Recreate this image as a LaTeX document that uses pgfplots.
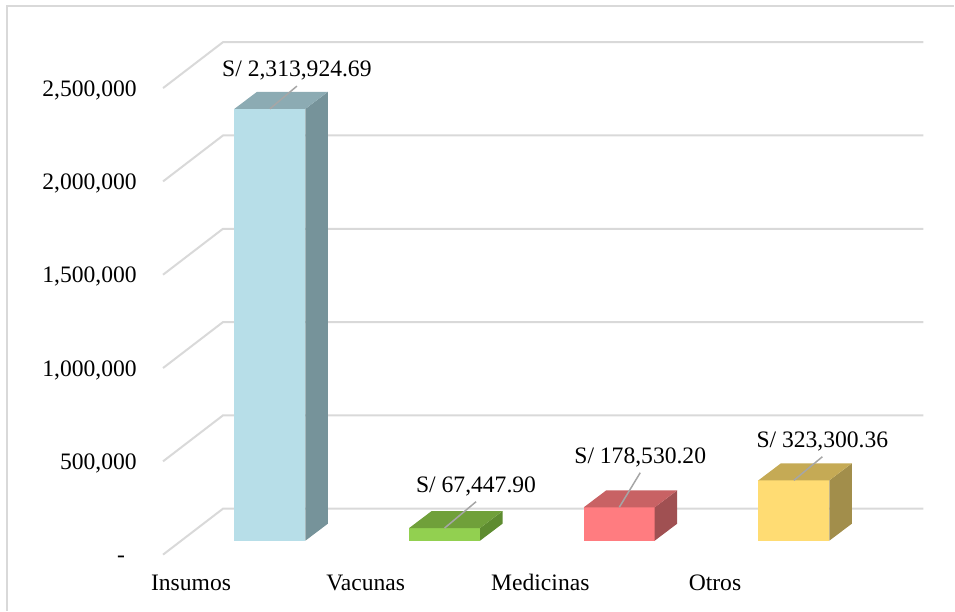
\documentclass[border=0pt]{standalone}
\usepackage{pgfplots}
\pgfplotsset{compat=1.18}
\usepackage{fontspec}
\setmainfont{Liberation Serif}
\definecolor{gridc}{HTML}{D9D9D9}
\definecolor{leadc}{HTML}{A6A6A6}
\definecolor{insF}{HTML}{B7DEE8}
\definecolor{insT}{HTML}{8CABB3}
\definecolor{insS}{HTML}{76939A}
\definecolor{vacF}{HTML}{92D050}
\definecolor{vacT}{HTML}{70A03A}
\definecolor{vacS}{HTML}{5E8C30}
\definecolor{medF}{HTML}{FF7C80}
\definecolor{medT}{HTML}{C86264}
\definecolor{medS}{HTML}{A05052}
\definecolor{otrF}{HTML}{FFDC73}
\definecolor{otrT}{HTML}{C5AA55}
\definecolor{otrS}{HTML}{A28E4B}
\newcommand{\lblfont}{\fontsize{11.8pt}{14pt}\selectfont}
\begin{document}
\begin{tikzpicture}
\begin{axis}[
  scale only axis, width=477.5pt, height=305.5pt,
  xmin=-1.5444, xmax=3.9181, ymin=-299786, ymax=2971081,
  clip=false,
  axis line style={draw=none},
  major tick length=0pt,
  scaled y ticks=false,
  ytick={0,500000,1000000,1500000,2000000,2500000},
  yticklabels={{-\hphantom{0}},{500,000},{1,000,000},{1,500,000},{2,000,000},{2,500,000}},
  yticklabel style={font=\lblfont, anchor=base east, xshift=68.5pt, yshift=-4.05pt, inner sep=0pt},
  xtick={0,1,2,3},
  xticklabels={Insumos,Vacunas,Medicinas,Otros},
  xticklabel style={font=\lblfont, anchor=base, xshift=-39.5pt, yshift=10pt, inner sep=0pt},
]
\path (rel axis cs:0,0) rectangle (rel axis cs:1,1);
\draw[gridc, line width=0.75pt] (rel axis cs:0.00733,0) -- (rel axis cs:0.00733,0.99018) -- (rel axis cs:1,0.99018);
% walls: left-wall diagonals and back-wall horizontals
\addplot[gridc, line width=1pt, mark=none] coordinates {(-0.612,0) (-0.2688,246252) (3.7408,246252)};
\addplot[gridc, line width=1pt, mark=none] coordinates {(-0.612,500000) (-0.2688,746252) (3.7408,746252)};
\addplot[gridc, line width=1pt, mark=none] coordinates {(-0.612,1000000) (-0.2688,1246252) (3.7408,1246252)};
\addplot[gridc, line width=1pt, mark=none] coordinates {(-0.612,1500000) (-0.2688,1746252) (3.7408,1746252)};
\addplot[gridc, line width=1pt, mark=none] coordinates {(-0.612,2000000) (-0.2688,2246252) (3.7408,2246252)};
\addplot[gridc, line width=1pt, mark=none] coordinates {(-0.612,2500000) (-0.2688,2746252) (3.7408,2746252)};
% Insumos 2,313,924.69
\addplot[fill=insF, draw=none, mark=none] coordinates {(-0.2031,74946) (0.2031,74946) (0.2031,2388870.69) (-0.2031,2388870.69)} -- cycle;
\addplot[fill=insS, draw=none, mark=none] coordinates {(0.2031,74946) (0.3318,165952) (0.3318,2479876.69) (0.2031,2388870.69)} -- cycle;
\addplot[fill=insT, draw=none, mark=none] coordinates {(-0.2031,2388870.69) (0.2031,2388870.69) (0.3318,2479876.69) (-0.0744,2479876.69)} -- cycle;
% Vacunas 67,447.90
\addplot[fill=vacF, draw=none, mark=none] coordinates {(0.7969,74946) (1.2031,74946) (1.2031,142393.90) (0.7969,142393.90)} -- cycle;
\addplot[fill=vacS, draw=none, mark=none] coordinates {(1.2031,74946) (1.3318,165952) (1.3318,233399.90) (1.2031,142393.90)} -- cycle;
\addplot[fill=vacT, draw=none, mark=none] coordinates {(0.7969,142393.90) (1.2031,142393.90) (1.3318,233399.90) (0.9256,233399.90)} -- cycle;
% Medicinas 178,530.20
\addplot[fill=medF, draw=none, mark=none] coordinates {(1.7969,74946) (2.2031,74946) (2.2031,253476.20) (1.7969,253476.20)} -- cycle;
\addplot[fill=medS, draw=none, mark=none] coordinates {(2.2031,74946) (2.3318,165952) (2.3318,344482.20) (2.2031,253476.20)} -- cycle;
\addplot[fill=medT, draw=none, mark=none] coordinates {(1.7969,253476.20) (2.2031,253476.20) (2.3318,344482.20) (1.9256,344482.20)} -- cycle;
% Otros 323,300.36
\addplot[fill=otrF, draw=none, mark=none] coordinates {(2.7969,74946) (3.2031,74946) (3.2031,398246.36) (2.7969,398246.36)} -- cycle;
\addplot[fill=otrS, draw=none, mark=none] coordinates {(3.2031,74946) (3.3318,165952) (3.3318,489252.36) (3.2031,398246.36)} -- cycle;
\addplot[fill=otrT, draw=none, mark=none] coordinates {(2.7969,398246.36) (3.2031,398246.36) (3.3318,489252.36) (2.9256,489252.36)} -- cycle;
% leader lines
\addplot[leadc, line width=0.75pt, mark=none] coordinates {(0,2388870.69) (0.1544,2510698)};
\addplot[leadc, line width=0.75pt, mark=none] coordinates {(1,142393.90) (1.1802,283725)};
\addplot[leadc, line width=0.75pt, mark=none] coordinates {(2,253476.20) (2.1201,438971)};
\addplot[leadc, line width=0.75pt, mark=none] coordinates {(3,398246.36) (3.163,524623)};
% data labels
\node[font=\lblfont, anchor=base, inner sep=0pt, yshift=4.75pt] at (axis cs:0.1544,2510698) {S/ 2,313,924.69};
\node[font=\lblfont, anchor=base, inner sep=0pt, yshift=4.75pt] at (axis cs:1.1802,283725) {S/ 67,447.90};
\node[font=\lblfont, anchor=base, inner sep=0pt, yshift=4.75pt] at (axis cs:2.1201,438971) {S/ 178,530.20};
\node[font=\lblfont, anchor=base, inner sep=0pt, yshift=4.75pt] at (axis cs:3.163,524623) {S/ 323,300.36};
\end{axis}
\end{tikzpicture}
\end{document}
